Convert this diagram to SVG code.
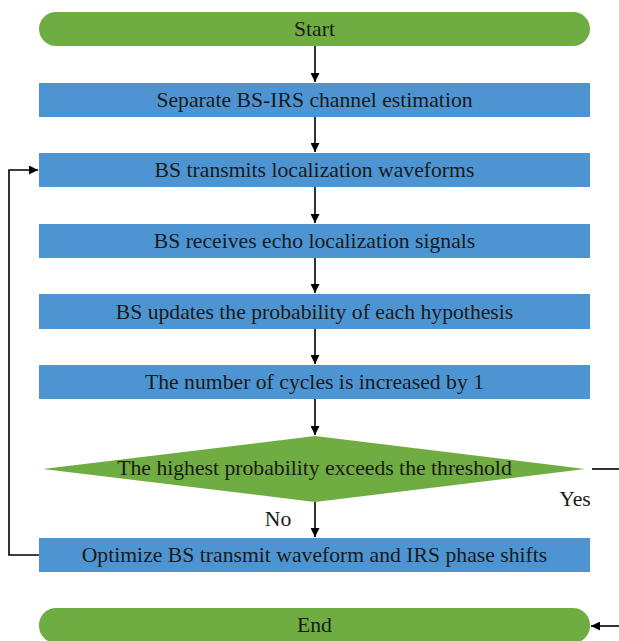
<svg xmlns="http://www.w3.org/2000/svg" width="619" height="641" viewBox="0 0 619 641">
<style>
.t{font-family:"Liberation Serif","Times New Roman",serif;font-size:21.7px;fill:#1a1a1a;text-anchor:middle;dominant-baseline:central}
.g{fill:#6fac41}
.b{fill:#4d95d2}
.c{stroke:#000;stroke-width:1.6;fill:none}
</style>
<defs>
<marker id="a" viewBox="0 0 10 10" refX="10" refY="5" markerWidth="9" markerHeight="9" orient="auto" markerUnits="userSpaceOnUse"><path d="M0,0L10,5L0,10z" fill="#000"/></marker>
</defs>
<rect width="619" height="641" fill="#fff"/>
<g id="start"><rect class="g" x="39" y="12" width="551" height="34" rx="17"/><text class="t" x="314.5" y="29">Start</text></g>
<g id="n1"><rect class="b" x="39" y="83" width="551" height="34"/><text class="t" x="314.5" y="100">Separate BS-IRS channel estimation</text></g>
<g id="n2"><rect class="b" x="39" y="153" width="551" height="34"/><text class="t" x="314.5" y="170">BS transmits localization waveforms</text></g>
<g id="n3"><rect class="b" x="39" y="224" width="551" height="34"/><text class="t" x="314.5" y="241">BS receives echo localization signals</text></g>
<g id="n4"><rect class="b" x="39" y="294" width="551" height="35"/><text class="t" x="314.5" y="312">BS updates the probability of each hypothesis</text></g>
<g id="n5"><rect class="b" x="39" y="365" width="551" height="34"/><text class="t" x="314.5" y="382">The number of cycles is increased by 1</text></g>
<g id="d1"><polygon class="g" points="43,469 315,436 585,469 315,502"/><text class="t" x="314.5" y="468">The highest probability exceeds the threshold</text></g>
<g id="n6"><rect class="b" x="39" y="538" width="551" height="34"/><text class="t" x="314.5" y="555">Optimize BS transmit waveform and IRS phase shifts</text></g>
<g id="end"><rect class="g" x="39" y="608" width="551" height="35" rx="17"/><text class="t" x="314.5" y="625">End</text></g>
<g id="connectors">
<line class="c" x1="315" y1="46" x2="315" y2="82" marker-end="url(#a)"/>
<line class="c" x1="315" y1="117" x2="315" y2="152" marker-end="url(#a)"/>
<line class="c" x1="315" y1="187" x2="315" y2="223" marker-end="url(#a)"/>
<line class="c" x1="315" y1="258" x2="315" y2="293" marker-end="url(#a)"/>
<line class="c" x1="315" y1="329" x2="315" y2="364" marker-end="url(#a)"/>
<line class="c" x1="315" y1="399" x2="315" y2="435" marker-end="url(#a)"/>
<line class="c" x1="315" y1="502" x2="315" y2="537" marker-end="url(#a)"/>
<polyline class="c" points="39,555 9,555 9,170 38,170" marker-end="url(#a)"/>
<line class="c" x1="592" y1="469" x2="619" y2="469"/>
<line class="c" x1="619" y1="626" x2="591" y2="626" marker-end="url(#a)"/>
<text class="t" x="278" y="519">No</text>
<text class="t" x="575" y="499">Yes</text>
</g>
</svg>
